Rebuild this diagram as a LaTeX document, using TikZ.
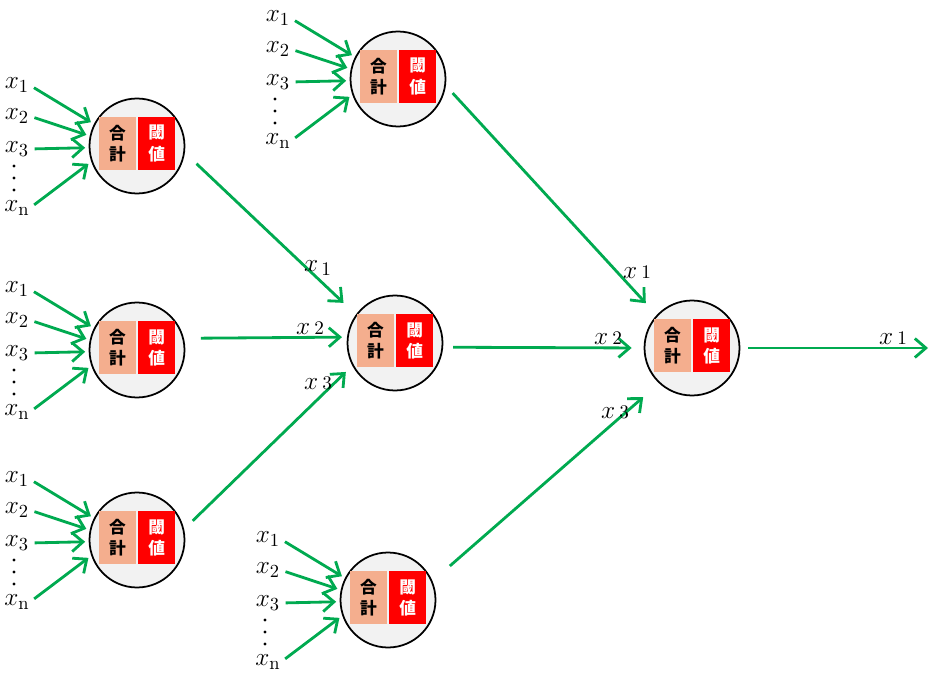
\documentclass[tikz,border=0pt]{standalone}
\usepackage{fontspec}
\newfontfamily\cjk{Noto Sans CJK JP}
\usetikzlibrary{arrows.meta}
\definecolor{linkgreen}{RGB}{0,170,80}
\definecolor{sumcolor}{RGB}{244,174,142}
\definecolor{cellgray}{RGB}{242,242,242}
\begin{document}
\begin{tikzpicture}[x=0.02cm,y=-0.02cm,
  neuron/.style={circle,draw,line width=1pt,fill=cellgray,minimum size=1.9cm,inner sep=0pt},
  sumbox/.style={fill=sumcolor,minimum width=0.73cm,minimum height=1.05cm,inner sep=0pt,
    align=center,font=\cjk\bfseries\fontsize{9.5}{12}\selectfont},
  threshbox/.style={sumbox,fill=red,text=white},
  link/.style={draw=linkgreen,line width=1.6pt,-{Straight Barb[length=2.2mm,width=3.8mm]}},
  lbl/.style={font=\fontsize{15}{17}\selectfont,inner sep=0pt}]
\useasboundingbox (0,0) rectangle (942,675);
% Neurons
\foreach \n/\cx/\cy in {A/137/146,B/137/350,C/137/540,D/398/79,E/395/343,F/388/600,G/692/348}{
  \node[neuron] (\n) at (\cx,\cy) {};
  \node[sumbox,anchor=east] (\n-s) at ([xshift=-0.02cm,yshift=0.05cm]\n.center) {合\\計};
  \node[threshbox,anchor=west] (\n-t) at ([xshift=0.02cm,yshift=0.05cm]\n.center) {閾\\値};
}
% Inputs
\foreach \n in {A,B,C,D,F}{
  \node[lbl] (\n-x1) at ([shift={(-120,-61)}]\n.center) {$x_{\mathrm{1}}$};
  \node[lbl] (\n-x2) at ([shift={(-120,-30)}]\n.center) {$x_{\mathrm{2}}$};
  \node[lbl] (\n-x3) at ([shift={(-120,3)}]\n.center) {$x_{\mathrm{3}}$};
  \node[lbl] (\n-xn) at ([shift={(-120,62)}]\n.center) {$x_{\mathrm{n}}$};
  \foreach \d in {20,32,44}
    \fill ([shift={(-123,\d)}]\n.center) circle (0.9pt);
  \draw[link,shorten <=3pt,shorten >=2pt] (\n-x1.east) -- (\n.153);
  \draw[link,shorten <=3pt,shorten >=2pt] (\n-x2.east) -- (\n.168);
  \draw[link,shorten <=3pt,shorten >=2pt] (\n-x3.east) -- (\n.182);
  \draw[link,shorten <=3pt,shorten >=2pt] (\n-xn.east) -- (\n.199);
}
% Connections
\draw[link,shorten <=0.32cm,shorten >=0.34cm] (A.-8) -- (E.144);
\draw[link,shorten <=0.34cm,shorten >=0.1cm] (B.14) -- (E.173);
\draw[link,shorten <=0.24cm,shorten >=0.18cm] (C.13) -- (E.208);
\draw[link,shorten <=0.2cm,shorten >=0.32cm] (D.-8) -- (G.137);
\draw[link,shorten <=0.2cm,shorten >=0.24cm] (E.-5) -- (G.180);
\draw[link,shorten <=0.46cm,shorten >=0.42cm] (F.23) -- (G.227);
\coordinate (out) at (928,348);
\draw[link,shorten <=0.16cm] (G.0) -- (out);
% Labels
\node[lbl] (lAE) at (318,268) {$x_{\,1}$};
\node[lbl] (lBE) at (310,328) {$x\,{\scriptstyle 2}$};
\node[lbl] (lCE) at (318,383) {$x\,{\scriptstyle 3}$};
\node[lbl] (lDG) at (637,272) {$x\,{\scriptstyle 1}$};
\node[lbl] (lEG) at (608,338) {$x\,{\scriptstyle 2}$};
\node[lbl] (lFG) at (615,412) {$x\,{\scriptstyle 3}$};
\node[lbl] (lout) at (893,338) {$x\,{\scriptstyle 1}$};
\end{tikzpicture}
\end{document}
